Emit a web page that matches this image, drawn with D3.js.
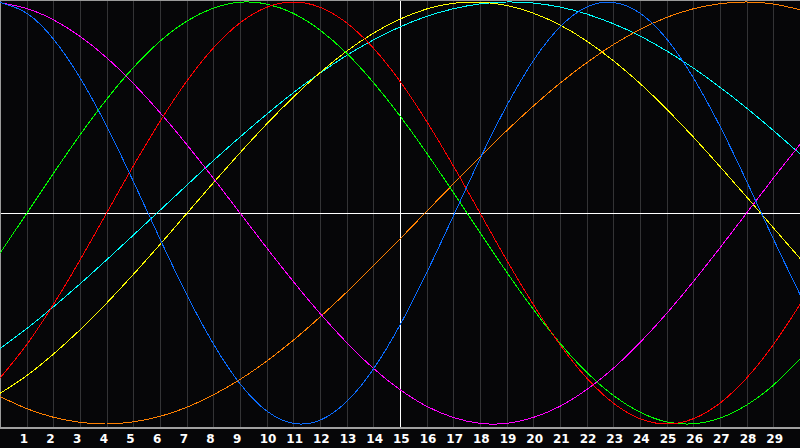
<!DOCTYPE html>
<html>
<head>
<meta charset="utf-8">
<script src="https://cdn.jsdelivr.net/npm/d3@7"></script>
<style>
  html, body { margin: 0; padding: 0; background: #060608; }
  svg { display: block; }
  .day-label { font-family: "DejaVu Sans", Verdana, sans-serif; font-weight: bold; font-size: 12px; fill: #fff; }
</style>
</head>
<body>
<svg id="chart" width="800" height="448"></svg>
<script>

// days shown along the bottom
var days = d3.range(0, 31);
var dayLabels = d3.range(1, 30);

// one value per day (day 0 .. 30), range -1 .. 1
var physical = [0.998, 0.947, 0.825, 0.641, 0.411, 0.150, -0.123, -0.386, -0.620, -0.809, -0.938,
  -0.997, -0.982, -0.894, -0.740, -0.531, -0.283, -0.014, 0.257, 0.508, 0.722,
  0.882, 0.976, 0.998, 0.947, 0.825, 0.641, 0.411, 0.150, -0.123, -0.386];
var emotional = [-0.782, -0.624, -0.434, -0.223, 0.000, 0.223, 0.434, 0.624, 0.782, 0.901, 0.975,
  1.000, 0.975, 0.901, 0.782, 0.624, 0.434, 0.223, 0.000, -0.223, -0.434,
  -0.624, -0.782, -0.901, -0.975, -1.000, -0.975, -0.901, -0.782, -0.624, -0.434];
var intellectual = [-0.191, -0.002, 0.187, 0.370, 0.539, 0.689, 0.814, 0.909, 0.971, 0.999, 0.990,
  0.946, 0.867, 0.757, 0.619, 0.460, 0.284, 0.097, -0.093, -0.280, -0.457,
  -0.617, -0.755, -0.865, -0.944, -0.990, -0.999, -0.972, -0.910, -0.816, -0.691];
var intuitive = [0.997, 0.969, 0.916, 0.837, 0.736, 0.614, 0.476, 0.325, 0.165, 0.000, -0.165,
  -0.325, -0.476, -0.614, -0.736, -0.837, -0.916, -0.969, -0.997, -0.997, -0.969,
  -0.916, -0.837, -0.736, -0.614, -0.476, -0.325, -0.165, 0.000, 0.165, 0.325];
var aesthetic = [-0.855, -0.771, -0.669, -0.554, -0.427, -0.291, -0.149, -0.003, 0.143, 0.285, 0.422,
  0.549, 0.665, 0.767, 0.852, 0.919, 0.967, 0.994, 0.999, 0.984, 0.947,
  0.891, 0.815, 0.722, 0.614, 0.492, 0.360, 0.220, 0.076, -0.070, -0.215];
var awareness = [-0.870, -0.927, -0.968, -0.992, -1.000, -0.990, -0.964, -0.921, -0.862, -0.789, -0.702,
  -0.603, -0.493, -0.375, -0.251, -0.123, 0.008, 0.138, 0.266, 0.390, 0.507,
  0.615, 0.712, 0.798, 0.870, 0.927, 0.968, 0.992, 1.000, 0.990, 0.964];
var spiritual = [-0.643, -0.548, -0.445, -0.336, -0.222, -0.105, 0.013, 0.131, 0.248, 0.360, 0.468,
  0.570, 0.663, 0.747, 0.820, 0.882, 0.932, 0.968, 0.991, 1.000, 0.995,
  0.976, 0.943, 0.897, 0.839, 0.768, 0.687, 0.596, 0.497, 0.391, 0.280];

var seriesNames = ["spiritual", "aesthetic", "awareness", "intuitive", "intellectual", "emotional", "physical"];
var seriesValues = [spiritual, aesthetic, awareness, intuitive, intellectual, emotional, physical];
var seriesColors = ["#00ffff", "#ffff00", "#ff8000", "#ff00ff", "#00ff00", "#ff0000", "#0a6cff"];

var width = 800
  , plotBottom = 427;

var svg = d3.select("#chart");

var x = d3.scaleLinear().domain([0, 30]).range([0, width]);
var y = d3.scaleLinear().domain([-1, 1]).range([424, 2]);

function px(v){ return Math.round(v) + 0.5; }

// background
svg.append("rect").attr("width", 800).attr("height", 448).attr("fill", "#060608");

// day grid lines
svg.append("g").selectAll("line")
  .data(dayLabels)
  .enter().append("line")
  .attr("x1", function(d){ return px(x(d)); })
  .attr("x2", function(d){ return px(x(d)); })
  .attr("y1", 0)
  .attr("y2", plotBottom)
  .attr("stroke", function(d){ return d == 15 ? "#ffffff" : "#333335"; })
  .attr("stroke-width", 1)
  .attr("shape-rendering", "crispEdges");

// zero line
svg.append("line")
  .attr("x1", 0).attr("x2", width)
  .attr("y1", px(y(0))).attr("y2", px(y(0)))
  .attr("stroke", "#ffffff")
  .attr("shape-rendering", "crispEdges");

// frame: top, left, bottom
svg.append("path")
  .attr("d", "M0.5," + (plotBottom + 0.5) + "V0.5H" + width)
  .attr("fill", "none")
  .attr("stroke", "#9a9a9a")
  .attr("shape-rendering", "crispEdges");
svg.append("line")
  .attr("x1", 0).attr("x2", width)
  .attr("y1", plotBottom + 0.5).attr("y2", plotBottom + 0.5)
  .attr("stroke", "#a0a0a0")
  .attr("stroke-width", 2)
  .attr("shape-rendering", "crispEdges");

// cycle curves, drawn aliased like the original
var line = d3.line()
  .x(function(d, i){ return x(days[i]); })
  .y(function(d){ return y(d); })
  .curve(d3.curveNatural);

svg.append("g").selectAll("path")
  .data(seriesValues)
  .enter().append("path")
  .attr("class", function(d, i){ return "cycle " + seriesNames[i]; })
  .attr("d", line)
  .attr("fill", "none")
  .attr("stroke", function(d, i){ return seriesColors[i]; })
  .attr("stroke-width", 1)
  .attr("shape-rendering", "crispEdges");

// day labels
svg.append("g").selectAll("text")
  .data(dayLabels)
  .enter().append("text")
  .attr("class", "day-label")
  .attr("x", function(d){ return x(d) - 7; })
  .attr("y", 443)
  .text(function(d){ return d; });

</script>
</body>
</html>
